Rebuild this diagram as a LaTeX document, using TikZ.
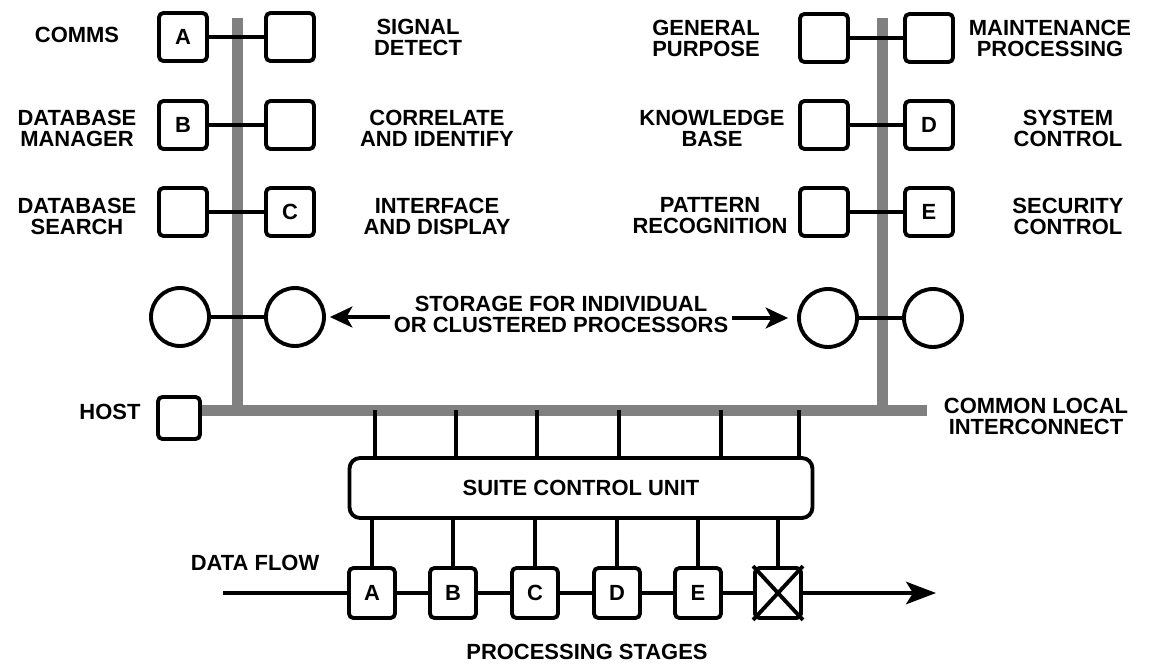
\documentclass[tikz,border=0pt]{standalone}
\usepackage{fontspec}
\setmainfont{Liberation Sans}
\usetikzlibrary{arrows.meta}

\begin{document}
\begin{tikzpicture}[x=0.02cm, y=-0.02cm,
    font=\fontsize{12.5}{12}\selectfont\bfseries,
    box/.style={draw, line width=2.2pt, rounded corners=2.5pt, minimum size=0.96cm, inner sep=0pt},
    stage/.style={box, minimum width=0.92cm, minimum height=1cm},
    store/.style={draw, line width=2.2pt, circle, minimum size=1.16cm, inner sep=0pt},
    lbl/.style={align=center, inner sep=2pt},
    link/.style={line width=1.8pt},
    bus/.style={draw=black!50, line width=0.22cm},
    arr/.style={line width=1.8pt, -{Stealth[length=0.45cm, width=0.42cm, inset=0.12cm]}}]
    \useasboundingbox (0,0) rectangle (1158,665);
    % buses
    \coordinate (lt) at (237,18);
    \coordinate (lb) at (237,410);
    \coordinate (rt) at (882,18);
    \coordinate (rb) at (882,410);
    \coordinate (be) at (927,410);
    \node[box, minimum size=0.84cm] (host) at (179,418) {};
    \draw[bus] (lt) -- (lb);
    \draw[bus] (rt) -- (rb);
    \draw[bus] (host.east |- lb) -- (be);
    % left processors
    \node[box] (a1) at (183,37) {A};
    \node[box] (a2) at (290,37) {};
    \node[box] (b1) at (183,125) {B};
    \node[box] (b2) at (290,125) {};
    \node[box] (c1) at (183,212) {};
    \node[box] (c2) at (290,212) {C};
    % right processors
    \node[box] (g1) at (824,38) {};
    \node[box] (g2) at (929,38) {};
    \node[box] (k1) at (824,125) {};
    \node[box] (k2) at (929,125) {D};
    \node[box] (p1) at (824,212) {};
    \node[box] (p2) at (929,212) {E};
    % storage
    \node[store] (cl1) at (180,317) {};
    \node[store] (cl2) at (295,317) {};
    \node[store] (cr1) at (828,318) {};
    \node[store] (cr2) at (933,318) {};
    \foreach \u/\v in {a1/a2,b1/b2,c1/c2,g1/g2,k1/k2,p1/p2,cl1/cl2,cr1/cr2}
        \draw[link] (\u) -- (\v);
    \node[lbl] (stor) at (561,314) {STORAGE FOR INDIVIDUAL\\OR CLUSTERED PROCESSORS};
    \draw[arr, shorten >=0.08cm] (stor.west |- cl2) -- (cl2.east);
    \draw[arr, shorten >=0.18cm] (stor.east |- cr1) -- (cr1.west);
    % labels
    \node[lbl] at (77,35) {COMMS};
    \node[lbl] at (77,128) {DATABASE\\MANAGER};
    \node[lbl] at (77,216) {DATABASE\\SEARCH};
    \node[lbl] at (418,37) {SIGNAL\\DETECT};
    \node[lbl] at (437,128) {CORRELATE\\AND IDENTIFY};
    \node[lbl] at (437,216) {INTERFACE\\AND DISPLAY};
    \node[lbl] at (706,38) {GENERAL\\PURPOSE};
    \node[lbl] at (712,128) {KNOWLEDGE\\BASE};
    \node[lbl] at (710,216) {PATTERN\\RECOGNITION};
    \node[lbl] at (1050,38) {MAINTENANCE\\PROCESSING};
    \node[lbl] at (1068,128) {SYSTEM\\CONTROL};
    \node[lbl] at (1068,216) {SECURITY\\CONTROL};
    \node[lbl] at (110,412) {HOST};
    \node[lbl] at (1036,416) {COMMON LOCAL\\INTERCONNECT};
    % suite control unit
    \node[box, rounded corners=6pt, minimum width=9.26cm, minimum height=1.2cm] (scu) at (581,488) {SUITE CONTROL UNIT};
    \foreach \x [count=\i] in {375,456,537,619,721,799} {
        \coordinate (t\i) at (\x,410);
        \draw[link] (t\i) -- (t\i |- scu.north);
    }
    % processing stages
    \node[stage] (sA) at (372,593) {A};
    \node[stage] (sB) at (453,593) {B};
    \node[stage] (sC) at (535,593) {C};
    \node[stage] (sD) at (617,593) {D};
    \node[stage] (sE) at (698,593) {E};
    \node[stage] (sX) at (778,593) {};
    \draw[line width=2.2pt] (sX.north west) -- (sX.south east) (sX.north east) -- (sX.south west);
    \foreach \s in {sA,sB,sC,sD,sE,sX}
        \draw[link] (\s.north) -- (\s.north |- scu.south);
    \coordinate (din) at (223,593);
    \coordinate (dout) at (936,593);
    \draw[link] (din) -- (sA) -- (sB) -- (sC) -- (sD) -- (sE) -- (sX);
    \draw[arr, -{Stealth[length=0.6cm, width=0.45cm, inset=0.14cm]}] (sX) -- (dout);
    \node[lbl] at (255,563) {DATA FLOW};
    \node[lbl] at (587,652) {PROCESSING STAGES};
\end{tikzpicture}
\end{document}
